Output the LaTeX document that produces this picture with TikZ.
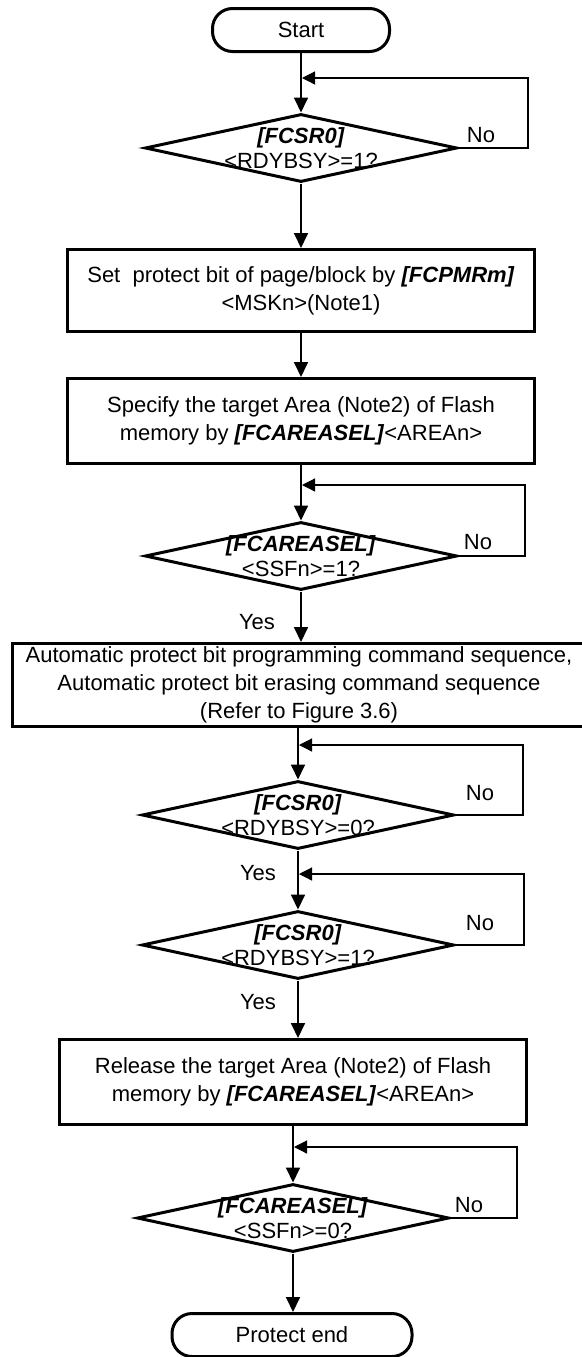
\documentclass[tikz,border=0pt]{standalone}
\usepackage{fontspec}
\setmainfont{Liberation Sans}
\usetikzlibrary{shapes.geometric, arrows.meta}
\newcommand{\Reg}[1]{\textbf{\textit{#1}}}
\tikzset{
  Kasten/.style={draw,line width=3pt,align=center,inner sep=0pt}, % für Schritte
  Raute/.style={draw,diamond,line width=3pt,inner sep=0pt,minimum width=312pt,minimum height=68pt}, % für Abfragen
  Ende/.style={draw,line width=3pt,rounded corners=20pt,align=center,inner sep=0pt}, % für Start und Ende
  Text/.style={align=center,inner sep=0pt,font=\fontsize{22}{25}\selectfont}, % Text in Rauten
  Pfeil/.style={line width=1.8pt,-{Triangle[length=15pt,width=14pt]}}, % für Pfeile
  RPfeil/.style={line width=1.2pt,shorten >=1pt,-{Triangle[length=13pt,width=13pt]}} % für Rückführungen
}
\begin{document}
\begin{tikzpicture}[x=1pt,y=-1pt,font=\fontsize{22}{28}\selectfont]
\useasboundingbox (0,0) rectangle (581,1357);

% % Start und Kasten
\node[Ende,minimum width=177pt,minimum height=43pt] (start) at (301,30) {Start};
\node[Kasten,minimum width=467pt,minimum height=82pt] (k1) at (301,290.5)
  {Set\ \ protect bit of page/block by \Reg{[FCPMRm]}\\<MSKn>(Note1)};
\node[Kasten,minimum width=467pt,minimum height=85pt] (k2) at (301,421)
  {Specify the target Area (Note2) of Flash\\memory by \Reg{[FCAREASEL]}<AREAn>};
\node[Kasten,minimum width=574pt,minimum height=83pt] (k3) at (299,685)
  {Automatic protect bit programming command sequence,\\Automatic protect bit erasing command sequence\\(Refer to Figure 3.6)};
\node[Kasten,minimum width=467pt,minimum height=85pt] (k4) at (293,1082)
  {Release the target Area (Note2) of Flash\\memory by \Reg{[FCAREASEL]}<AREAn>};
\node[Ende,minimum width=240pt,minimum height=43pt] (ende) at (292,1335) {Protect end};

% % Rauten
\node[Raute] (r1) at (301,148) {};
\node[Text] (t1) at (r1) {\Reg{[FCSR0]}\\<RDYBSY>=1?};
\node[Raute] (r2) at (301,556) {};
\node[Text] (t2) at (r2) {\Reg{[FCAREASEL]}\\<SSFn>=1?};
\node[Raute] (r3) at (298,815) {};
\node[Text] (t3) at (r3) {\Reg{[FCSR0]}\\<RDYBSY>=0?};
\node[Raute] (r4) at (298,945) {};
\node[Text] (t4) at (r4) {\Reg{[FCSR0]}\\<RDYBSY>=1?};
\node[Raute] (r5) at (293,1218) {};
\node[Text] (t5) at (r5) {\Reg{[FCAREASEL]}\\<SSFn>=0?};

% Pfeile
\draw[Pfeil] (start.south) -- (start.south |- r1.north);
\draw[Pfeil] (r1.south) -- (r1.south |- k1.north);
\draw[Pfeil] (k1.south) -- (k1.south |- k2.north);
\draw[Pfeil] (k2.south) -- (k2.south |- r2.north);
\draw[Pfeil] (r2.south) -- (r2.south |- k3.north);
\draw[Pfeil] (k3.south -| r3.north) -- (r3.north);
\draw[Pfeil] (r3.south) -- (r4.north);
\draw[Pfeil] (r4.south) -- (r4.south |- k4.north);
\draw[Pfeil] (k4.south -| r5.north) -- (r5.north);
\draw[Pfeil] (r5.south) -- (r5.south |- ende.north);

% Rückführungen
\coordinate (s1) at (528,78);
\coordinate (s2) at (525,485);
\coordinate (s3) at (523,745);
\coordinate (s4) at (524,874);
\coordinate (s5) at (517,1147);
\draw[RPfeil] (r1.east) -| (s1) -- (s1 -| r1.north);
\draw[RPfeil] (r2.east) -| (s2) -- (s2 -| r2.north);
\draw[RPfeil] (r3.east) -| (s3) -- (s3 -| r3.north);
\draw[RPfeil] (r4.east) -| (s4) -- (s4 -| r4.north);
\draw[RPfeil] (r5.east) -| (s5) -- (s5 -| r5.north);

% Beschriftung
\node (n1) at (481,135) {No};
\node (n2) at (478,542) {No};
\node (n3) at (480,793) {No};
\node (n4) at (480,923) {No};
\node (n5) at (469,1205) {No};
\node (y2) at (257,622) {Yes};
\node (y3) at (258,873) {Yes};
\node (y4) at (258,1002) {Yes};

\end{tikzpicture}
\end{document}
